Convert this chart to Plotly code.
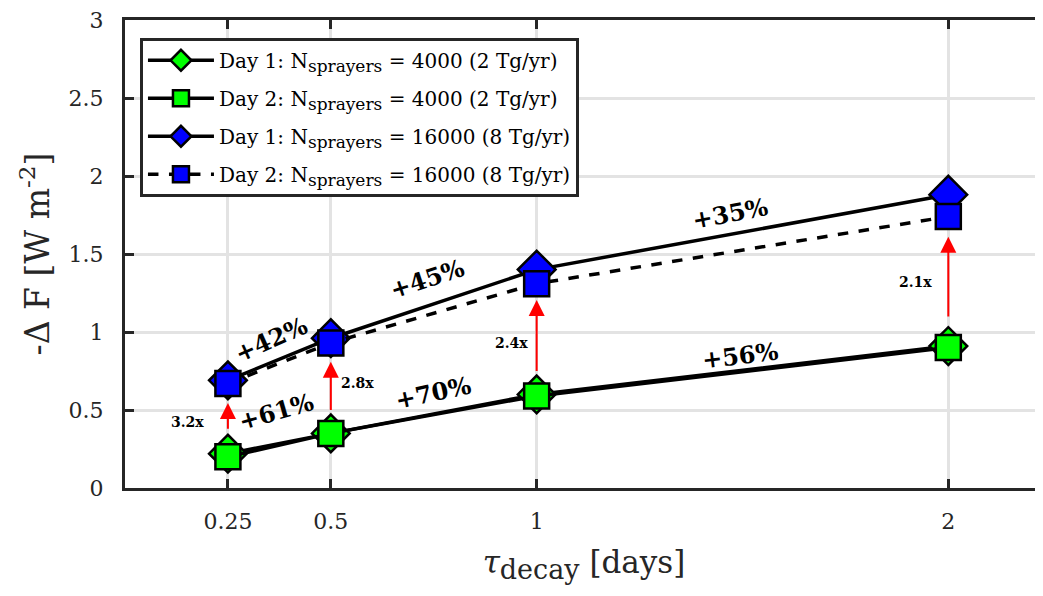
import plotly.graph_objects as go

# ---- data ----
tau = [0.25, 0.5, 1, 2]
day1_4000 = [0.22, 0.35, 0.60, 0.91]
day2_4000 = [0.20, 0.35, 0.59, 0.90]
day1_16000 = [0.69, 0.96, 1.40, 1.88]
day2_16000 = [0.67, 0.93, 1.31, 1.74]

arrow_tail = [0.37, 0.49, 0.74, 1.09]
arrow_head = [0.545, 0.81, 1.205, 1.61]
ratio_labels = ["3.2x", "2.8x", "2.4x", "2.1x"]

pct_labels_16000 = ["+42%", "+45%", "+35%"]
pct_labels_4000 = ["+61%", "+70%", "+56%"]

x_ticks = [0.25, 0.5, 1, 2]
x_ticklabels = ["0.25", "0.5", "1", "2"]
y_ticks = [0, 0.5, 1, 1.5, 2, 2.5, 3]
y_ticklabels = ["0", "0.5", "1", "1.5", "2", "2.5", "3"]

FONT = "DejaVu Serif"
AX = "#262626"

fig = go.Figure()

SUB = "<sub><span style='font-size:17px'>sprayers</span></sub>"

def add(y, name, symbol, color, dash, size, grp):
    fig.add_trace(go.Scatter(
        x=tau, y=y, name=name, mode="lines+markers", legendgroup=grp,
        line=dict(color="black", width=3.5, dash=dash),
        marker=dict(symbol=symbol, size=size, color=color,
                    line=dict(color="black", width=2.5)),
    ))

add(day1_4000, "Day 1: N" + SUB + " = 4000 (2 Tg/yr)", "diamond", "#00ff00", "solid", 29, "a")
add(day2_4000, "Day 2: N" + SUB + " = 4000 (2 Tg/yr)", "square", "#00ff00", "solid", 25, "b")
add(day1_16000, "Day 1: N" + SUB + " = 16000 (8 Tg/yr)", "diamond", "#0000ff", "solid", 29, "c")
add(day2_16000, "Day 2: N" + SUB + " = 16000 (8 Tg/yr)", "square", "#0000ff", "dash", 25, "d")

annotations = []
# red arrows
for xv, t, h in zip(tau, arrow_tail, arrow_head):
    annotations.append(dict(x=xv, y=h, ax=xv, ay=t, xref="x", yref="y",
                            axref="x", ayref="y", text="", showarrow=True,
                            arrowcolor="red", arrowwidth=2, arrowhead=2,
                            arrowsize=1.6, standoff=0, startstandoff=0))
# ratio labels
ratio_pos = [(0.153, 0.42), (0.564, 0.67), (0.94, 0.93), (1.92, 1.32)]
for (xv, yv), lab in zip(ratio_pos, ratio_labels):
    annotations.append(dict(x=xv, y=yv, xref="x", yref="y", text="<b>" + lab + "</b>",
                            showarrow=False, font=dict(family=FONT, size=14, color="black")))
# percentage labels
pct_pos_16000 = [(0.355, 0.95, -24), (0.736, 1.34, -18), (1.47, 1.76, -11)]
pct_pos_4000 = [(0.367, 0.49, -16), (0.75, 0.61, -12), (1.495, 0.85, -7)]
for (xv, yv, ang), lab in zip(pct_pos_16000 + pct_pos_4000, pct_labels_16000 + pct_labels_4000):
    annotations.append(dict(x=xv, y=yv, xref="x", yref="y", text="<b>" + lab + "</b>",
                            showarrow=False, textangle=ang,
                            font=dict(family=FONT, size=24, color="black")))

fig.update_layout(
    width=1035, height=588,
    margin=dict(l=117, r=0, t=12, b=108),
    paper_bgcolor="white", plot_bgcolor="white",
    font=dict(family=FONT, color=AX),
    annotations=annotations,
    legend=dict(x=0.0163, y=0.962, xanchor="left", yanchor="top",
                bgcolor="white", bordercolor=AX, borderwidth=3,
                font=dict(family=FONT, size=20, color="black"),
                tracegroupgap=9, itemwidth=66),
    xaxis=dict(range=[0, 2.23], tickvals=x_ticks, ticktext=x_ticklabels,
               showline=True, linecolor=AX, linewidth=3, mirror="ticks",
               ticks="inside", ticklen=9, tickwidth=3, tickcolor=AX,
               ticklabelstandoff=12, ticklabeloverflow="allow",
               showgrid=True, gridcolor="#e3e3e3", gridwidth=2.5, zeroline=False,
               tickfont=dict(family=FONT, size=22, color=AX),
               title=dict(text="<i>τ</i><sub><span style='font-size:27px'>decay</span></sub> [days]",
                          font=dict(family=FONT, size=31, color=AX), standoff=18)),
    yaxis=dict(range=[0, 3], tickvals=y_ticks, ticktext=y_ticklabels,
               showline=True, linecolor=AX, linewidth=3,
               ticks="inside", ticklen=9, tickwidth=3, tickcolor=AX,
               ticklabelstandoff=14, ticklabeloverflow="allow",
               showgrid=True, gridcolor="#e3e3e3", gridwidth=2.5, zeroline=False,
               tickfont=dict(family=FONT, size=22, color=AX),
               title=dict(text="-Δ F [W m<sup>-2</sup>]",
                          font=dict(family=FONT, size=33, color=AX), standoff=10)),
    showlegend=True,
)

fig.write_html("out.html")
